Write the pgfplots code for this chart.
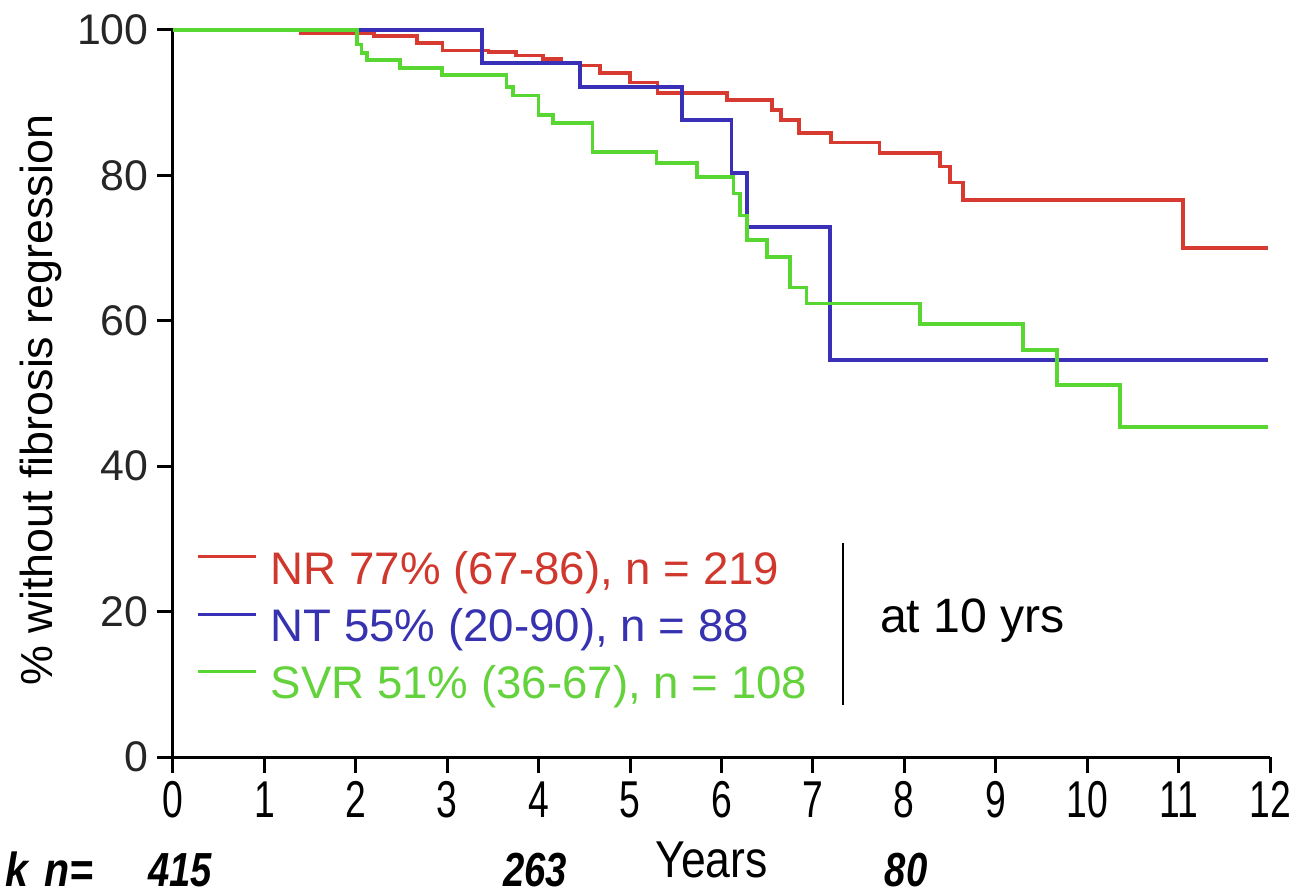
\documentclass[border=0pt]{standalone}
\usepackage{fontspec}
\setmainfont{Liberation Sans}
\usepackage{graphicx}
\usepackage{pgfplots}
\pgfplotsset{compat=1.18}

\definecolor{nrred}{RGB}{214,58,48}
\definecolor{ntblue}{RGB}{58,48,184}
\definecolor{svrgreen}{RGB}{88,214,50}
\definecolor{nrtext}{RGB}{208,55,45}
\definecolor{nttext}{RGB}{55,50,175}
\definecolor{svrtext}{RGB}{100,210,60}

\begin{document}
\begin{tikzpicture}
\begin{axis}[
  name=ax,
  at={(0,0)}, anchor=south west,
  scale only axis, width=548.5bp, height=363.5bp,
  xmin=0, xmax=12, ymin=0, ymax=100,
  clip=false,
  axis x line*=bottom, axis y line*=left,
  axis line style={line width=1.5bp, black, -},
  xtick={0,...,12}, ytick={0,20,...,100},
  tick align=outside,
  major tick length=8bp,
  tick style={line width=1.5bp, black},
  /pgf/number format/assume math mode=true,
  yticklabel style={font=\fontsize{21.5}{25}\selectfont, inner sep=0pt, xshift=-4bp, text=black!85},
  xticklabel={\scalebox{0.72}[1]{\pgfmathprintnumber{\tick}}},
  xticklabel style={font=\fontsize{26}{30}\selectfont, inner sep=0pt, yshift=-4bp},
  ylabel={\% without fibrosis regression},
  ylabel style={at={(axis description cs:-0.12,0.491)}, anchor=center, font=\fontsize{22.5}{27}\selectfont},
  xlabel={\scalebox{0.86}[1]{Years}},
  xlabel style={at={(axis description cs:0.491,0)}, anchor=base, yshift=-60bp, inner sep=0pt, font=\fontsize{26}{30}\selectfont},
  legend style={at={(axis cs:0.26,29.3)}, anchor=north west, draw=none, fill=none,
    inner sep=0pt, outer sep=0pt, row sep=0pt, column sep=6.5bp,
    font=\fontsize{22.9}{27}\selectfont,
    nodes={text height=16.5bp, text depth=5bp, inner ysep=3.6bp, inner xsep=0bp}},
  legend cell align=left,
  legend image code/.code={\draw[#1, line width=1.5bp] (0bp,8bp) -- (29bp,8bp);},
]
% Kaplan-Meier estimates, value held from each time until the next one
\addplot[const plot, nrred, line width=1.8bp] coordinates {
  (0,100) (1.4,99.5) (2.2,99.2) (2.67,98.2) (2.95,97.2) (3.45,97.0) (3.75,96.5)
  (4.05,96.0) (4.25,95.5) (4.45,95.1) (4.67,94.1) (5.0,92.8) (5.3,91.3)
  (6.06,90.4) (6.55,89.0) (6.65,87.6) (6.85,85.8) (7.2,84.5) (7.73,83.1)
  (8.39,81.2) (8.5,79.0) (8.64,76.6) (11.05,70.0) (11.98,70.0)
};
\addlegendentry{\textcolor{nrtext}{NR 77\% (67-86), n = 219}}
\addplot[const plot, ntblue, line width=1.8bp] coordinates {
  (0,100) (3.38,95.5) (4.45,92.2) (5.57,87.6) (6.11,80.3) (6.28,72.9)
  (7.19,54.6) (11.98,54.6)
};
\addlegendentry{\textcolor{nttext}{NT 55\% (20-90), n = 88}}
\addplot[const plot, svrgreen, line width=1.8bp] coordinates {
  (0,100) (2.01,98.0) (2.06,96.8) (2.12,95.9) (2.48,94.8) (2.94,93.8)
  (3.65,92.2) (3.72,91.0) (4.0,88.3) (4.16,87.2) (4.59,83.2) (5.29,81.7)
  (5.73,79.8) (6.13,77.5) (6.2,74.5) (6.28,71.1) (6.5,68.8) (6.75,64.6)
  (6.93,62.4) (8.17,59.6) (9.3,56.0) (9.67,51.2) (10.36,45.4) (11.98,45.4)
};
\addlegendentry{\textcolor{svrtext}{SVR 51\% (36-67), n = 108}}

% bracket and note for the 10-year estimates
\draw[line width=1bp, black] (axis cs:7.33,29.4) -- (axis cs:7.33,7.15);
\node[anchor=west, inner sep=0pt, font=\fontsize{24.2}{28}\selectfont] at (axis cs:7.73,18.8) {at 10 yrs};

% numbers at risk
\begin{scope}[every node/.style={anchor=base, inner sep=0pt, font=\fontsize{24}{29}\selectfont\bfseries\itshape}]
\node[anchor=base west] at ([xshift=-84bp, yshift=-64.5bp]axis cs:0,0) {\scalebox{0.86}[1]{k\hspace{0.12em} n=}};
\node at ([yshift=-64.5bp]axis cs:0.08,0) {\scalebox{0.8}[1]{415}};
\node at ([yshift=-64.5bp]axis cs:3.96,0) {\scalebox{0.8}[1]{263}};
\node at ([yshift=-64.5bp]axis cs:8.02,0) {\scalebox{0.8}[1]{80}};
\end{scope}
\end{axis}
\pgfresetboundingbox
\path[use as bounding box] ([xshift=-86.5bp,yshift=-69.5bp]ax.south west) rectangle ([xshift=563bp,yshift=378.5bp]ax.south west);
\end{tikzpicture}
\end{document}
